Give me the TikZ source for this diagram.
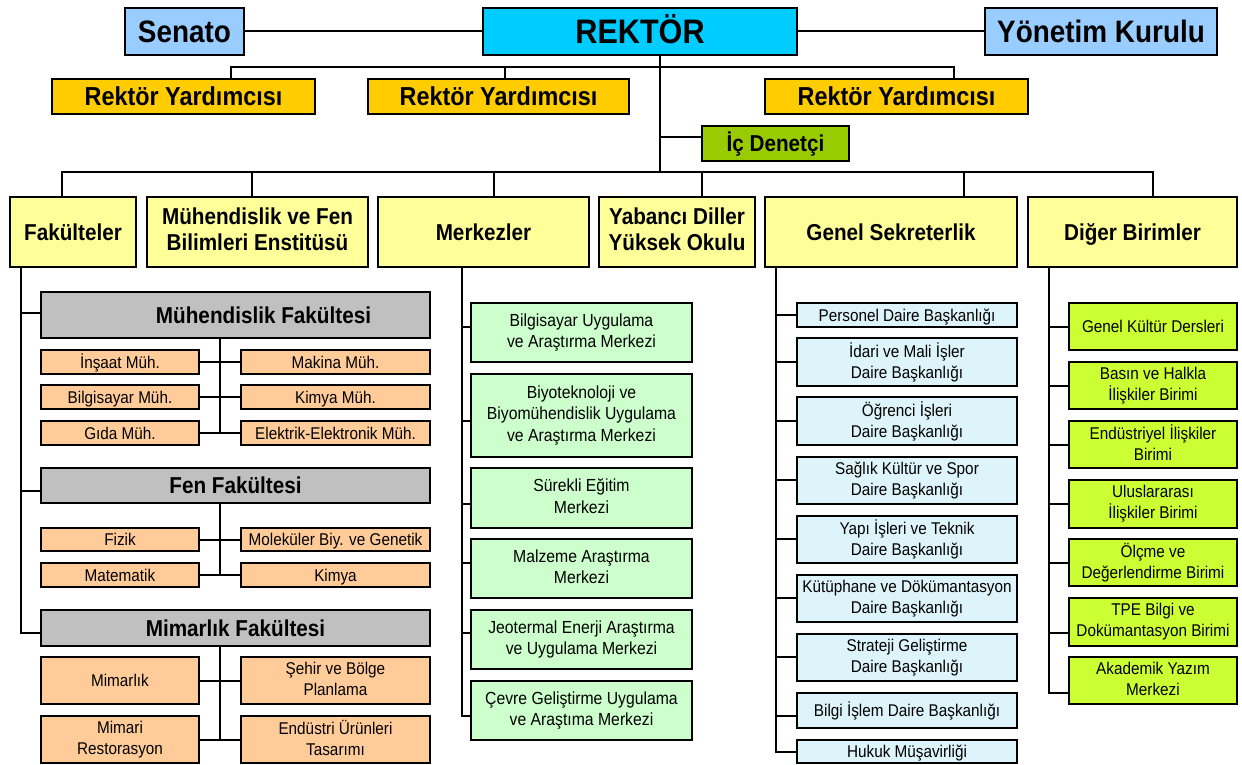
\documentclass[tikz,border=0pt]{standalone}
\usepackage{fontspec}
\setmainfont{Liberation Sans}[FakeStretch=0.9]
\definecolor{cRek}{RGB}{0,204,255}
\definecolor{cBlue}{RGB}{153,204,255}
\definecolor{cGold}{RGB}{255,204,0}
\definecolor{cIc}{RGB}{153,204,0}
\definecolor{cYel}{RGB}{255,255,153}
\definecolor{cGray}{RGB}{192,192,192}
\definecolor{cPeach}{RGB}{255,204,153}
\definecolor{cMint}{RGB}{204,255,204}
\definecolor{cIce}{RGB}{221,244,250}
\definecolor{cLime}{RGB}{204,255,51}
\newcommand\capTopRule{\rule{0pt}{0.93em}}
\newcommand\capBotRule{\rule[-0.214em]{0pt}{0.214em}}
\tikzset{
  box/.style={draw=black, line width=1.9pt, inner sep=0pt, align=center, text=black,
    execute at begin node=\capTopRule, execute at end node=\capBotRule},
  conn/.style={draw=black, line width=2pt, line cap=rect, line join=miter},
  ftop/.style={font=\fontsize{31}{37}\selectfont\bfseries},
  frek/.style={font=\fontsize{34}{40}\selectfont\bfseries},
  fry/.style={font=\fontsize{26}{31}\selectfont\bfseries},
  fmid/.style={font=\fontsize{23}{26}\selectfont\bfseries},
  fsm/.style={font=\fontsize{17}{21}\selectfont},
  fsm2/.style={font=\fontsize{17.5}{21.3}\selectfont},
  toplvl/.style={box, fill=cBlue, minimum width=#1pt, minimum height=47pt, ftop},
  rystyle/.style={box, fill=cGold, minimum width=#1pt, minimum height=35pt, fry},
  lvl/.style={box, fill=cYel, minimum width=#1pt, minimum height=70pt, fmid},
  facb/.style={box, fill=cGray, minimum width=389pt, minimum height=#1pt, fmid},
  deptL/.style={box, fill=cPeach, minimum width=158pt, minimum height=#1pt, fsm},
  deptR/.style={box, fill=cPeach, minimum width=189pt, minimum height=#1pt, fsm},
  mrk/.style={box, fill=cMint, minimum width=221pt, minimum height=#1pt, fsm2},
  gsb/.style={box, fill=cIce, minimum width=220pt, minimum height=#1pt, fsm},
  dgb/.style={box, fill=cLime, minimum width=168pt, minimum height=#1pt, fsm}
}
\begin{document}
\begin{tikzpicture}[x=1pt,y=-1pt]
\useasboundingbox (0,0) rectangle (1242,765);

% top row
\node[toplvl=119] (senato) at (184.5,31.5) {Senato};
\node[box, fill=cRek, minimum width=314pt, minimum height=47pt, frek] (rektor) at (640,31.5) {REKTÖR};
\node[toplvl=232] (yonetim) at (1101,31.5) {Yönetim Kurulu};

% vice rectors
\node[rystyle=263] (ry1) at (183.5,96.5) {Rektör Yardımcısı};
\node[rystyle=261] (ry2) at (498.5,96.5) {Rektör Yardımcısı};
\node[rystyle=263] (ry3) at (896.5,96.5) {Rektör Yardımcısı};
\node[box, fill=cIc, minimum width=147pt, minimum height=35pt, font=\fontsize{23}{27}\selectfont\bfseries] (icd) at (775.5,143.5) {İç Denetçi};

% level 3
\node[lvl=126] (fak) at (73,232) {Fakülteler};
\node[lvl=221] (mfbe) at (257.5,232) {Mühendislik ve Fen\\Bilimleri Enstitüsü};
\node[lvl=211] (merk) at (483.5,232) {Merkezler};
\node[lvl=156] (ydyo) at (677,232) {Yabancı Diller\\Yüksek Okulu};
\node[lvl=252] (gs) at (891,232) {Genel Sekreterlik};
\node[lvl=209] (dig) at (1132.5,232) {Diğer Birimler};

% faculties
\node[facb=46] (mf) at (235.5,315) {\hspace*{56pt}Mühendislik Fakültesi};
\node[facb=35] (ff) at (235.5,485.5) {Fen Fakültesi};
\node[facb=36] (mimf) at (235.5,628) {Mimarlık Fakültesi};

\node[deptL=24] (d11) at (120,362) {İnşaat Müh.};
\node[deptR=24] (d12) at (335.5,362) {Makina Müh.};
\node[deptL=24] (d21) at (120,397) {Bilgisayar Müh.};
\node[deptR=24] (d22) at (335.5,397) {Kimya Müh.};
\node[deptL=24] (d31) at (120,433) {Gıda Müh.};
\node[deptR=24] (d32) at (335.5,433) {Elektrik-Elektronik Müh.};

\node[deptL=23] (f11) at (120,539.5) {Fizik};
\node[deptR=23] (f12) at (335.5,539.5) {Moleküler Biy. ve Genetik};
\node[deptL=24] (f21) at (120,575) {Matematik};
\node[deptR=24] (f22) at (335.5,575) {Kimya};

\node[deptL=47] (a11) at (120,680.5) {Mimarlık};
\node[deptR=47] (a12) at (335.5,680.5) {Şehir ve Bölge\\Planlama};
\node[deptL=47] (a21) at (120,739.5) {Mimari\\Restorasyon};
\node[deptR=47] (a22) at (335.5,739.5) {Endüstri Ürünleri\\Tasarımı};

% centers
\node[mrk=59] (m1) at (581.5,332.5) {Bilgisayar Uygulama\\ve Araştırma Merkezi};
\node[mrk=83] (m2) at (581.5,415.5) {Biyoteknoloji ve\\Biyomühendislik Uygulama\\ve Araştırma Merkezi};
\node[mrk=60] (m3) at (581.5,498) {Sürekli Eğitim\\Merkezi};
\node[mrk=59] (m4) at (581.5,568.5) {Malzeme Araştırma\\Merkezi};
\node[mrk=59] (m5) at (581.5,639.5) {Jeotermal Enerji Araştırma\\ve Uygulama Merkezi};
\node[mrk=59] (m6) at (581.5,710.5) {Çevre Geliştirme Uygulama\\ve Araştıma Merkezi};

% general secretariat
\node[gsb=24] (g1) at (907,315) {Personel Daire Başkanlığı};
\node[gsb=48] (g2) at (907,362) {İdari ve Mali İşler\\Daire Başkanlığı};
\node[gsb=48] (g3) at (907,421) {Öğrenci İşleri\\Daire Başkanlığı};
\node[gsb=47] (g4) at (907,480.5) {Sağlık Kültür ve Spor\\Daire Başkanlığı};
\node[gsb=47] (g5) at (907,539.5) {Yapı İşleri ve Teknik\\Daire Başkanlığı};
\node[gsb=47] (g6) at (907,598.5) {Kütüphane ve Dökümantasyon\\Daire Başkanlığı};
\node[gsb=47] (g7) at (907,657.5) {Strateji Geliştirme\\Daire Başkanlığı};
\node[gsb=35] (g8) at (907,710.5) {Bilgi İşlem Daire Başkanlığı};
\node[gsb=23] (g9) at (907,751.5) {Hukuk Müşavirliği};

% other units
\node[dgb=47] (o1) at (1153,326.5) {Genel Kültür Dersleri};
\node[dgb=47] (o2) at (1153,385.5) {Basın ve Halkla\\İlişkiler Birimi};
\node[dgb=47] (o3) at (1153,444.5) {Endüstriyel İlişkiler\\Birimi};
\node[dgb=48] (o4) at (1153,504) {Uluslararası\\İlişkiler Birimi};
\node[dgb=47] (o5) at (1153,562.5) {Ölçme ve\\Değerlendirme Birimi};
\node[dgb=48] (o6) at (1153,622) {TPE Bilgi ve\\Dokümantasyon Birimi};
\node[dgb=47] (o7) at (1153,680.5) {Akademik Yazım\\Merkezi};

% ---------- connectors ----------
\draw[conn] (senato.east) -- (rektor.west);
\draw[conn] (rektor.east) -- (yonetim.west);

\coordinate (tr) at (660,172);
\draw[conn] (rektor.south -| tr) -- (tr);

\coordinate (ryb1) at (231,67);
\coordinate (ryb2) at (505,67);
\coordinate (ryb3) at (954,67);
\draw[conn] (ry1.north -| ryb1) |- (ryb3) -- (ry3.north -| ryb3);
\draw[conn] (ryb2) -- (ry2.north -| ryb2);

\coordinate (icj) at (660,137);
\draw[conn] (icj) -- (icj -| icd.west);

\coordinate (b1) at (62,172);
\coordinate (b2) at (252,172);
\coordinate (b3) at (494,172);
\coordinate (b4) at (702,172);
\coordinate (b5) at (964,172);
\coordinate (b6) at (1153,172);
\draw[conn] (fak.north -| b1) |- (b6) -- (dig.north -| b6);
\draw[conn] (b2) -- (mfbe.north -| b2);
\draw[conn] (b3) -- (merk.north -| b3);
\draw[conn] (b4) -- (ydyo.north -| b4);
\draw[conn] (b5) -- (gs.north -| b5);

% faculties trunk
\coordinate (ft) at (21,633);
\draw[conn] (fak.south -| ft) -- (ft) -- (ft -| mimf.west);
\coordinate (fj1) at (21,313);
\coordinate (fj2) at (21,491);
\draw[conn] (fj1) -- (fj1 -| mf.west);
\draw[conn] (fj2) -- (fj2 -| ff.west);

\coordinate (mv) at (220,433);
\draw[conn] (mf.south -| mv) -- (mv);
\coordinate (fv) at (220,575);
\draw[conn] (ff.south -| fv) -- (fv);
\coordinate (av) at (220,739.5);
\draw[conn] (mimf.south -| av) -- (av);
\foreach \l/\r in {d11/d12,d21/d22,d31/d32,f11/f12,f21/f22,a11/a12,a21/a22}
  \draw[conn] (\l.east) -- (\r.west);

% centers trunk
\coordinate (mt) at (462,716);
\draw[conn] (merk.south -| mt) -- (mt) -- (mt -| m6.west);
\foreach \n/\y in {m1/327,m2/421,m3/504,m4/563,m5/633}{
  \coordinate (tmp) at (462,\y);
  \draw[conn] (tmp) -- (tmp -| \n.west);
}

% general secretariat trunk
\coordinate (gt) at (776,752);
\draw[conn] (gs.south -| gt) -- (gt) -- (gt -| g9.west);
\foreach \n/\y in {g1/315,g2/362,g3/421,g4/480,g5/539,g6/598,g7/657,g8/716}{
  \coordinate (tmp) at (776,\y);
  \draw[conn] (tmp) -- (tmp -| \n.west);
}

% other units trunk
\coordinate (ot) at (1049,693);
\draw[conn] (dig.south -| ot) -- (ot) -- (ot -| o7.west);
\foreach \n/\y in {o1/327,o2/386,o3/445,o4/504,o5/563,o6/633}{
  \coordinate (tmp) at (1049,\y);
  \draw[conn] (tmp) -- (tmp -| \n.west);
}
\end{tikzpicture}
\end{document}
